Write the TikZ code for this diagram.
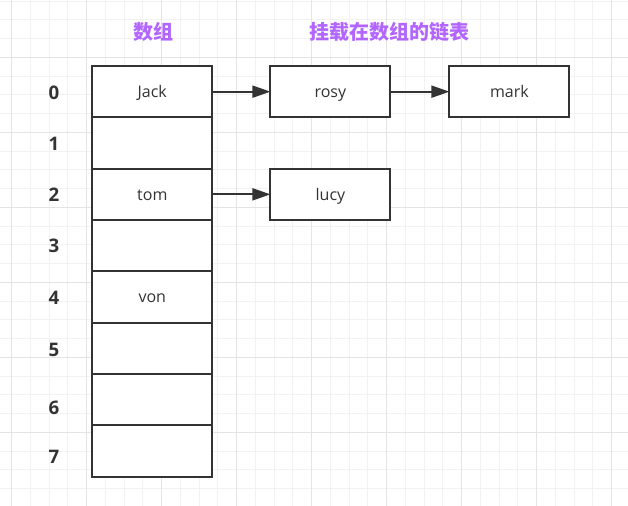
\documentclass[tikz,border=0pt]{standalone}
\usepackage{fontspec}
\setmainfont{Open Sans}
\newfontfamily\cjk{Noto Sans CJK SC}
\usetikzlibrary{arrows.meta}
\definecolor{ink}{HTML}{333333}
\definecolor{gridminor}{HTML}{F2F2F2}
\definecolor{gridmajor}{HTML}{E4E4E4}
\definecolor{headpurple}{HTML}{B266FF}
\begin{document}
\begin{tikzpicture}[x=0.75pt,y=-0.75pt,
  cell/.style={draw=ink, line width=1.5pt, fill=white, minimum width=90pt, minimum height=38.5pt, inner sep=0pt, outer sep=0pt, text=ink, text height=8.6pt, text depth=0pt, font=\fontsize{12}{14}\selectfont},
  idx/.style={text=ink, font=\fontsize{14}{16}\selectfont\bfseries},
  head/.style={text=headpurple, font=\cjk\bfseries\fontsize{15}{18}\selectfont},
  link/.style={draw=ink, line width=1.5pt, -{Triangle[length=13.5pt,width=9pt]}},
  minorline/.style={draw=gridminor, line width=0.75pt},
  majorline/.style={draw=gridmajor, line width=0.75pt}]
\useasboundingbox (0,0) rectangle (628,506);
\fill[white] (0,0) rectangle (628,506);
% grid
\foreach \i in {0,...,32} \draw[minorline] ({11.7+18.75*\i},0) -- ({11.7+18.75*\i},506);
\foreach \j in {0,...,26} \draw[minorline] (0,{1.05+18.75*\j}) -- (628,{1.05+18.75*\j});
\foreach \i in {0,...,8} \draw[majorline] ({11.7+75*\i},0) -- ({11.7+75*\i},506);
\foreach \j in {0,...,5} \draw[majorline] (0,{57.3+75*\j}) -- (628,{57.3+75*\j});
% headings
\node[head] (h1) at (153,31.5) {数组};
\node[head] (h2) at (389.3,32) {挂载在数组的链表};
% array cells
\node[cell] (c0) at (152.3,91.67) {Jack};
\node[cell] (c1) at (152.3,143.01) {};
\node[cell] (c2) at (152.3,194.35) {tom};
\node[cell] (c3) at (152.3,245.69) {};
\node[cell] (c4) at (152.3,297.03) {von};
\node[cell] (c5) at (152.3,348.37) {};
\node[cell] (c6) at (152.3,399.71) {};
\node[cell] (c7) at (152.3,451.05) {};
% indices
\node[idx] (i0) at (54,93) {0};
\node[idx] (i1) at (54,144) {1};
\node[idx] (i2) at (54,195) {2};
\node[idx] (i3) at (54,246) {3};
\node[idx] (i4) at (54,298.3) {4};
\node[idx] (i5) at (54,350) {5};
\node[idx] (i6) at (54,407.8) {6};
\node[idx] (i7) at (54,457) {7};
% linked lists
\node[cell] (rosy) at (330.4,91.67) {rosy};
\node[cell] (mark) at (509.4,91.67) {mark};
\node[cell] (lucy) at (330.4,194.35) {lucy};
\draw[link] (c0.east) -- (rosy.west);
\draw[link] (rosy.east) -- (mark.west);
\draw[link] (c2.east) -- (lucy.west);
\end{tikzpicture}
\end{document}
